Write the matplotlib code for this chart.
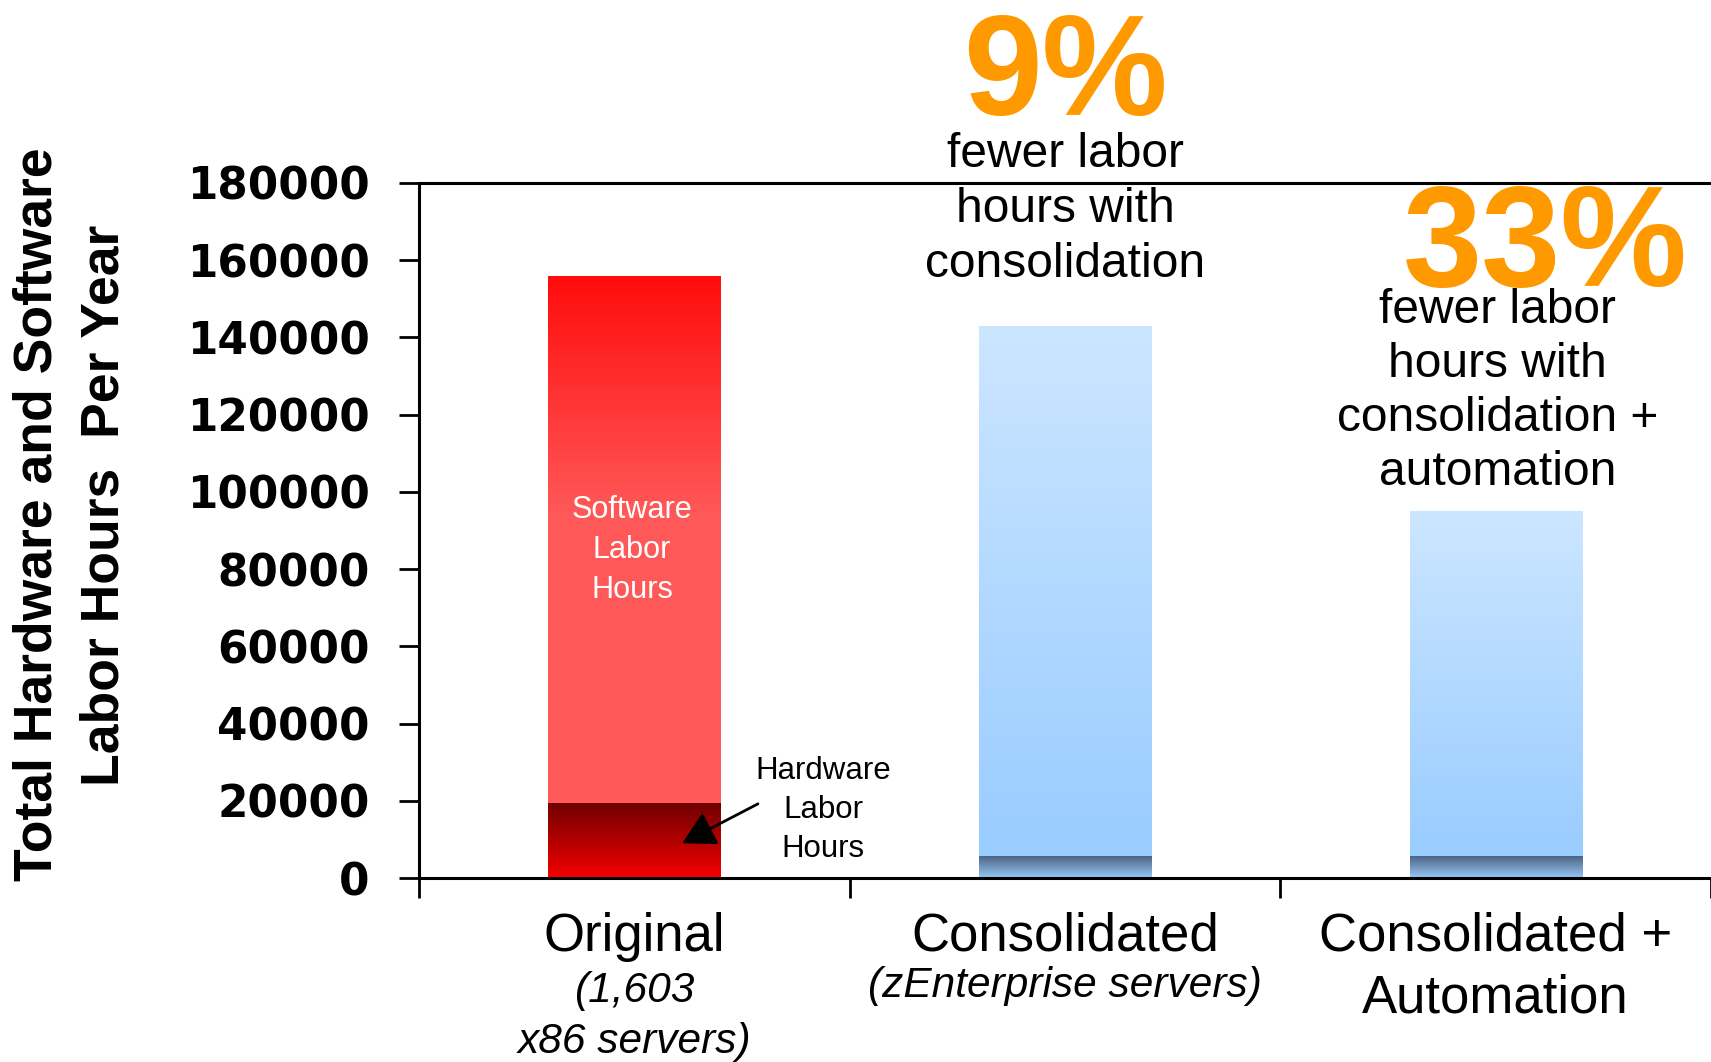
import numpy as np
import matplotlib
matplotlib.use('Agg')
import matplotlib.pyplot as plt
from matplotlib import font_manager
from matplotlib.colors import LinearSegmentedColormap

# labor hours per year, split into hardware (bottom) and software (top)
categories = [['Original'], ['Consolidated'], ['Consolidated +', 'Automation']]
subtitles = [['(1,603', 'x86 servers)'], ['(zEnterprise servers)'], []]
hardware_hours = [19500, 5700, 5700]
software_hours = [136500, 137300, 89300]
yticks = [0, 20000, 40000, 60000, 80000, 100000, 120000, 140000, 160000, 180000]

pct_9 = '9%'
pct_9_text = ['fewer labor', 'hours with', 'consolidation']
pct_33 = '33%'
pct_33_text = ['fewer labor', 'hours with', 'consolidation +', 'automation']


def has_font(name):
    try:
        font_manager.findfont(font_manager.FontProperties(family=name), fallback_to_default=False)
        return True
    except Exception:
        return False


SANS = 'Liberation Sans'
if has_font('Liberation Sans Narrow'):
    NARROW, nscale = 'Liberation Sans Narrow', 1.0
else:
    NARROW, nscale = 'Liberation Sans', 0.85
ORANGE = '#FF9900'

fig = plt.figure(figsize=(17.11, 10.62), dpi=100)
ax = fig.add_axes([419 / 1711, 184 / 1062, 1 - 419 / 1711, 695 / 1062])

x = np.arange(len(hardware_hours)) + 0.5
hw_bars = ax.bar(x, hardware_hours, width=0.4, color='#F00000', zorder=2)
sw_bars = ax.bar(x, software_hours, width=0.4, bottom=hardware_hours, color='#FF5A5A', zorder=2)

# gradient fills, cmap goes bottom (0) -> top (1)
red_sw = LinearSegmentedColormap.from_list('red_sw', [(0, '#FF5A5A'), (0.55, '#FF5858'), (1, '#FF0C0C')])
red_hw = LinearSegmentedColormap.from_list('red_hw', ['#F50000', '#6E0000'])
blue_sw = LinearSegmentedColormap.from_list('blue_sw', ['#99CCFF', '#CCE6FF'])
blue_hw = LinearSegmentedColormap.from_list('blue_hw', ['#97C8F8', '#4A6080'])


def fill_gradient(patch, cmap):
    x0, y0 = patch.get_x(), patch.get_y()
    w, h = patch.get_width(), patch.get_height()
    grad = np.linspace(1, 0, 256).reshape(-1, 1)
    im = ax.imshow(grad, cmap=cmap, vmin=0, vmax=1, origin='upper', aspect='auto',
                   extent=(x0, x0 + w, y0, y0 + h), zorder=2.5)
    im.set_clip_path(patch)


for i in range(len(x)):
    fill_gradient(hw_bars[i], red_hw if i == 0 else blue_hw)
    fill_gradient(sw_bars[i], red_sw if i == 0 else blue_sw)

ax.set_xlim(0, 3)
ax.set_ylim(0, 180000)
ax.set_xticks([0, 1, 2, 3])
ax.set_xticklabels([])
ax.set_yticks(yticks)
ax.set_yticklabels([str(t) for t in yticks], fontfamily='DejaVu Sans', fontweight='bold', fontsize=31.5)
ax.tick_params(axis='both', direction='out', length=14.5, width=2, color='black')
ax.tick_params(axis='y', pad=21)
ax.spines['right'].set_visible(False)
for s in ['left', 'bottom', 'top']:
    ax.spines[s].set_linewidth(2.2)

tr = ax.get_xaxis_transform()


def put_lines(xc, y0, lines, step, **kw):
    for k, line in enumerate(lines):
        ax.text(xc, y0 - k * step, line, transform=tr, ha='center', va='baseline',
                clip_on=False, **kw)


# category labels under the axis
for i, xc in enumerate(x):
    put_lines(xc, -0.105, categories[i], 0.089, fontfamily=SANS, fontsize=38)
sub_y = [-0.178, -0.171, 0]
for i, xc in enumerate(x):
    put_lines(xc, sub_y[i], subtitles[i], 0.0734, fontfamily=SANS, fontsize=30.5, style='italic')

# percentage callouts
ax.text(1.5, 1.098, pct_9, transform=tr, ha='center', va='baseline', color=ORANGE,
        fontfamily=SANS, fontweight='bold', fontsize=102, clip_on=False)
put_lines(1.5, 1.023, pct_9_text, 0.0791, fontfamily=SANS, fontsize=34.5)
ax.text(2.615, 0.852, pct_33, transform=tr, ha='center', va='baseline', color=ORANGE,
        fontfamily=SANS, fontweight='bold', fontsize=102.5, clip_on=False, zorder=1)
put_lines(2.505, 0.7986, pct_33_text, 0.0777, fontfamily=SANS, fontsize=34.5)

# stack labels on the first bar
put_lines(0.495, 0.518, ['Software', 'Labor', 'Hours'], 0.0575, fontfamily=NARROW,
          fontsize=26 * nscale, color='white', zorder=4)
put_lines(0.938, 0.1424, ['Hardware', 'Labor', 'Hours'], 0.0561, fontfamily=NARROW,
          fontsize=26.5 * nscale, color='black')
ax.annotate('', xy=(0.611, 9000), xytext=(0.787, 19200),
            arrowprops=dict(arrowstyle='-|>,head_length=0.4,head_width=0.22', lw=2,
                            color='black', mutation_scale=50, shrinkA=0, shrinkB=0),
            zorder=5, annotation_clip=False)

fig.text(0.022, 0.516, 'Total Hardware and Software', rotation=90, ha='center', va='center',
         fontfamily=SANS, fontweight='bold', fontsize=38.5)
fig.text(0.061, 0.524, 'Labor Hours  Per Year', rotation=90, ha='center', va='center',
         fontfamily=SANS, fontweight='bold', fontsize=38.5)

fig.savefig('out.png', dpi=100, facecolor='white')
